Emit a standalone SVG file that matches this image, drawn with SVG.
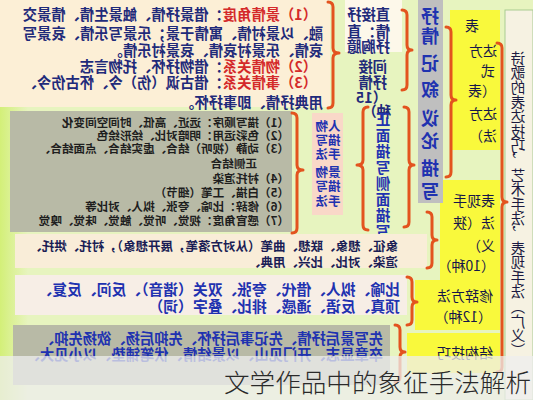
<svg xmlns="http://www.w3.org/2000/svg" width="533" height="400" viewBox="0 0 533 400">
<style>
.t{font-family:"Noto Sans CJK SC","Noto Sans",sans-serif;dominant-baseline:central}
.nv{fill:#1f2a7a;font-weight:700;font-size:14.3px}
.rd{fill:#d42a2a}
.gb{fill:#1e1e1e;font-weight:700;font-size:11.6px}
.bl{fill:#1f32b0;font-weight:700}
.yl{fill:#16164a;font-size:14px}
.mid{text-anchor:middle}
.br{fill:none;stroke:#e3531e;stroke-width:3;stroke-linecap:round;stroke-linejoin:round}
</style>
<defs>
<linearGradient id="lime" x1="0" y1="0" x2="1" y2="0">
<stop offset="0" stop-color="#e7f4bf"/>
<stop offset="1" stop-color="#d3ef78"/>
</linearGradient>
</defs>
<rect width="533" height="400" fill="#e7f4bf"/>
<g id="diagram" transform="matrix(-1 0 0 1 533 0)">
<rect x="505" y="100" width="28" height="300" fill="url(#lime)"/>
<g id="root">
<rect x="0" y="10" width="28" height="390" fill="#f6f2e2" stroke="#a9cb92" stroke-width="1"/>
<text class="t" x="15" y="51" style="writing-mode:vertical-rl;font-size:14.6px;fill:#1a1a40">诗歌的表达技巧，艺术手法，表现手法（广义）</text>
</g>
<g id="biaoda">
<rect x="33" y="10" width="50" height="140" fill="#f9f93c"/>
<text class="t yl mid" x="61" y="25">表</text>
<text class="t yl mid" x="50" y="50">达方</text>
<text class="t yl mid" x="45" y="70">式</text>
<text class="t yl mid" x="51" y="90">（表</text>
<text class="t yl mid" x="50" y="113">达方</text>
<text class="t yl mid" x="50" y="135">法）</text>
</g>
<g id="biaoxian">
<rect x="33" y="180" width="60" height="100" fill="#f9f93c"/>
<text class="t yl" x="38" y="200">表现手</text>
<text class="t yl" x="38" y="222">法（狭</text>
<text class="t yl" x="38" y="245">义）</text>
<text class="t yl" x="38" y="265">（10种）</text>
</g>
<g id="xiuci">
<rect x="33" y="280" width="85" height="50" fill="#f9f93c"/>
<text class="t yl" x="40" y="295">修辞方法</text>
<text class="t yl" x="41" y="316">（12种）</text>
</g>
<g id="jiegou">
<rect x="33" y="333" width="93" height="40" fill="#f9f93c"/>
<text class="t yl" x="40" y="352">结构技巧</text>
</g>
<g id="fangshi">
<rect x="90" y="0" width="25" height="203" fill="#bfbfbf"/>
<text class="t bl mid" x="103" y="15" font-size="18">抒</text>
<text class="t bl mid" x="103" y="35" font-size="18">情</text>
<text class="t bl mid" x="103" y="62" font-size="18">记</text>
<text class="t bl mid" x="103" y="88" font-size="18">叙</text>
<text class="t bl mid" x="103" y="117" font-size="18">议</text>
<text class="t bl mid" x="103" y="140" font-size="18">论</text>
<text class="t bl mid" x="103" y="167" font-size="18">描</text>
<text class="t bl mid" x="103" y="190" font-size="18">写</text>
</g>
<g id="zhijie">
<rect x="131" y="0" width="57" height="52" fill="#fdf8ea"/>
<text class="t nv" x="143" y="13" font-size="12.5">直接抒</text>
<text class="t nv" x="143" y="30" font-size="12.5">情：直</text>
<text class="t nv" x="143" y="45" font-size="12.5">抒胸臆</text>
</g>
<g id="jianjie">
<text class="t nv" x="146" y="65" font-size="12.5">间接</text>
<text class="t nv" x="146" y="81" font-size="12.5">抒情</text>
<text class="t nv" x="146" y="96" font-size="12.5">（15</text>
<text class="t nv" x="142" y="110" font-size="12.5">种）</text>
</g>
<g id="zhengce">
<text class="t bl mid" x="150" y="118" font-size="14.5">正</text>
<text class="t bl mid" x="150" y="134" font-size="14.5">面</text>
<text class="t bl mid" x="150" y="150" font-size="14.5">描</text>
<text class="t bl mid" x="150" y="166" font-size="14.5">写</text>
<text class="t bl mid" x="150" y="182" font-size="14.5">侧</text>
<text class="t bl mid" x="150" y="198" font-size="14.5">面</text>
<text class="t bl mid" x="150" y="214" font-size="14.5">描</text>
<text class="t bl mid" x="150" y="230" font-size="14.5">写</text>
</g>
<g id="renwu">
<rect x="190" y="113" width="31" height="102" fill="#f9d8c8"/>
<text class="t bl mid" x="205" y="125" font-size="12.5">人物</text>
<text class="t bl mid" x="205" y="139" font-size="12.5">描写</text>
<text class="t bl mid" x="205" y="153" font-size="12.5">手法</text>
<text class="t bl mid" x="205" y="171" font-size="12.5">景物</text>
<text class="t bl mid" x="205" y="185" font-size="12.5">描写</text>
<text class="t bl mid" x="205" y="200" font-size="12.5">手法</text>
</g>
<g id="shuqing">
<rect x="203" y="0" width="330" height="107" fill="#fcefd6"/>
<text class="t nv" x="216" y="13"><tspan class="rd">（1）景情角度</tspan>：借景抒情、触景生情、情景交</text>
<text class="t nv" x="210" y="32">融、以景衬情、寓情于景；乐景写乐情、哀景写</text>
<text class="t nv" x="210" y="49">哀情、乐景衬哀情、哀景衬乐情。</text>
<text class="t nv" x="216" y="65"><tspan class="rd">（2）物情关系</tspan>：借物抒怀、托物言志</text>
<text class="t nv" x="216" y="81"><tspan class="rd">（3）事情关系</tspan>：借古讽（伤）今、怀古伤今、</text>
<text class="t nv" x="210" y="101">用典抒情、即事抒怀。</text>
</g>
<g id="miaoxie">
<rect x="241" y="111" width="282" height="121" fill="#b8baa6"/>
<text class="t gb" x="244" y="122">（1）描写顺序：远近、高低、时间空间变化</text>
<text class="t gb" x="244" y="135">（2）色彩运用：明暗对比、绘形绘色</text>
<text class="t gb" x="244" y="148">（3）动静（视听）结合、虚实结合、点面结合、</text>
<text class="t gb" x="276" y="163">正侧结合</text>
<text class="t gb" x="244" y="178">（4）衬托渲染</text>
<text class="t gb" x="244" y="192">（5）白描、工笔（细节）</text>
<text class="t gb" x="244" y="206">（6）修辞：比喻、夸张、拟人、对比等</text>
<text class="t gb" x="244" y="220">（7）感官角度：视觉、听觉、触觉、味觉、嗅觉</text>
</g>
<g id="xiayi">
<rect x="106" y="234" width="412" height="34" fill="#f9edd8"/>
<text class="t" x="135" y="245" style="font-size:12.5px;font-weight:700;fill:#1a1d55">象征、想象、联想、曲笔（从对方落笔，展开想象），衬托、烘托、</text>
<text class="t" x="135" y="261" style="font-size:12.5px;font-weight:700;fill:#1a1d55">渲染、对比、比兴、用典、</text>
</g>
<g id="xiucizhong">
<rect x="126" y="275" width="392" height="40" fill="#f7eee6"/>
<text class="t bl" x="133" y="288" font-size="14.8">比喻、拟人、借代、夸张、双关（谐音）、反问、反复、</text>
<text class="t bl" x="133" y="305" font-size="14.8">顶真、反语、通感、排比、叠字（词）</text>
</g>
<g id="jiegouzhong">
<rect x="143" y="325" width="377" height="60" fill="#b8baa6"/>
<text class="t bl" x="150" y="337" font-size="14.3">先写景后抒情、先记事后抒怀、先抑后扬、欲扬先抑、</text>
<text class="t bl" x="150" y="353" font-size="14.3">卒章显志、开门见山、以景结情、伏笔铺垫、以小见大、</text>
</g>
<g id="connectors">
<path class="br" d="M36,43 Q31,43 31,48 L31,197 Q31,202 26,202 Q31,202 31,207 L31,367 Q31,372 36,372"/>
<path class="br" d="M87,27 Q82,27 82,32 L82,95 Q82,100 77,100 Q82,100 82,105 L82,172 Q82,177 87,177"/>
<path class="br" d="M106,212 Q101,212 101,217 L101,235 Q101,240 96,240 Q101,240 101,245 L101,263 Q101,268 106,268"/>
<path class="br" d="M126,277 Q121,277 121,282 L121,297 Q121,302 116,302 Q121,302 121,307 L121,320 Q121,325 126,325"/>
<path class="br" d="M138,325 Q133,325 133,330 L133,347 Q133,352 128,352 Q133,352 133,357 L133,377 Q133,382 138,382"/>
<path class="br" d="M131,10 Q126,10 126,15 L126,45 Q126,50 121,50 Q126,50 126,55 L126,85 Q126,90 131,90"/>
<path class="br" d="M129,107 Q124,107 124,112 L124,160 Q124,165 119,165 Q124,165 124,170 L124,222 Q124,227 129,227"/>
<path class="br" d="M165,107 Q170,107 170,112 L170,160 Q170,165 176,165 Q170,165 170,170 L170,225 Q170,230 165,230"/>
<path class="br" d="M241,113 Q236,113 236,118 L236,165 Q236,170 230,170 Q236,170 236,175 L236,228 Q236,233 241,233"/>
<path class="br" d="M205,2 Q200,2 200,7 L200,48 Q200,53 194,53 Q200,53 200,58 L200,103 Q200,108 205,108"/>
</g>
</g>
<g id="caption">
<rect x="0" y="356" width="533" height="44" fill="#eeeeee" opacity="0.75"/>
<text class="t" x="224" y="381" textLength="307" lengthAdjust="spacingAndGlyphs" style="font-size:25px;font-weight:300;fill:#2a2a2a">文学作品中的象征手法解析</text>
</g>
</svg>
